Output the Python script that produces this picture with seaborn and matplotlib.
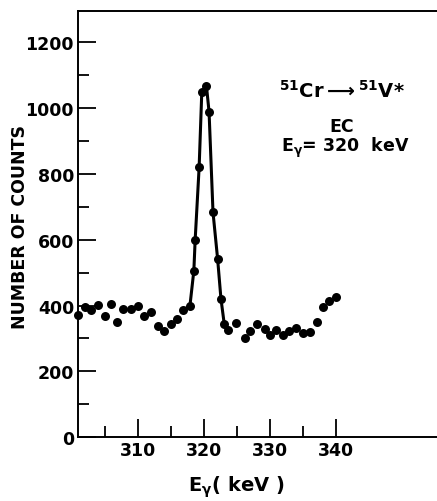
import numpy as np
import pandas as pd
import matplotlib
matplotlib.use('Agg')
import matplotlib.pyplot as plt
import seaborn as sns
from matplotlib.ticker import FixedLocator

# energy (keV) and counts
energy = [300.9, 302.0, 303.0, 304.0, 305.1, 306.0, 306.9, 307.8, 309.0, 310.1,
          311.0, 312.0, 313.0, 314.0, 315.0, 316.0, 316.9, 317.9, 318.5, 318.7,
          319.3, 319.7, 320.4, 320.8, 321.4, 322.1, 322.6, 323.1, 323.7, 324.9,
          326.2, 327.0, 328.1, 329.2, 330.0, 331.0, 332.0, 332.9, 333.9, 335.0,
          336.1, 337.1, 338.1, 339.0, 340.0]
counts = [372, 395, 385, 402, 369, 404, 351, 390, 390, 398,
          369, 380, 337, 323, 344, 359, 387, 398, 506, 600,
          820, 1048, 1068, 989, 683, 541, 421, 344, 326, 348,
          301, 324, 344, 329, 310, 325, 311, 322, 332, 317,
          319, 351, 395, 414, 425]
# points joined by the drawn curve (peak region)
peak_first, peak_last = 16, 28

x_major = [310, 320, 330, 340]
x_minor = [305, 315, 325, 335]
y_major = [0, 200, 400, 600, 800, 1000, 1200]
y_minor = [100, 300, 500, 700, 900, 1100]

df = pd.DataFrame({'E': energy, 'N': counts})
peak = df.iloc[peak_first:peak_last + 1]

sns.set_style('ticks')
plt.rcParams['font.family'] = ['DejaVu Sans']
plt.rcParams['mathtext.default'] = 'regular'
plt.rcParams['text.color'] = 'black'
plt.rcParams['axes.labelcolor'] = 'black'

fig = plt.figure(figsize=(4.37, 5.02), dpi=100)
ax = fig.add_axes([0.179, 0.127, 0.821, 0.850])

sns.lineplot(data=peak, x='E', y='N', ax=ax, color='black', lw=2.2,
             sort=False, estimator=None)
sns.scatterplot(data=df, x='E', y='N', ax=ax, color='black', s=42,
                edgecolor='black', linewidth=0, zorder=3, clip_on=False)

ax.set_xlim(301.0, 355.3)
ax.set_ylim(0, 1296)
ax.xaxis.set_major_locator(FixedLocator(x_major))
ax.xaxis.set_minor_locator(FixedLocator(x_minor))
ax.yaxis.set_major_locator(FixedLocator(y_major))
ax.yaxis.set_minor_locator(FixedLocator(y_minor))
ax.tick_params(which='both', direction='in', width=1.3, colors='black',
               labelsize=12.5, pad=3)
ax.tick_params(which='major', length=13)
ax.tick_params(which='minor', length=8)
for lab in ax.get_xticklabels() + ax.get_yticklabels():
    lab.set_fontweight('bold')

ax.spines['right'].set_visible(False)
for s in ['left', 'bottom', 'top']:
    ax.spines[s].set_linewidth(1.4)
    ax.spines[s].set_color('black')

ax.set_ylabel('NUMBER OF COUNTS', fontsize=12.5, fontweight='bold', va='center')
ax.yaxis.set_label_coords(-0.163, 0.495)
ax.set_xlabel(r'E$_{\gamma}$( keV )', fontsize=14, fontweight='bold', va='center')
ax.xaxis.set_label_coords(0.44, -0.115)

ax.text(0.735, 0.815, r'$^{51}$Cr$\longrightarrow$$^{51}$V*', transform=ax.transAxes,
        ha='center', va='center', fontsize=14, fontweight='bold')
ax.text(0.735, 0.729, 'EC', transform=ax.transAxes,
        ha='center', va='center', fontsize=12.5, fontweight='bold')
ax.text(0.745, 0.680, r'E$_{\gamma}$= 320  keV', transform=ax.transAxes,
        ha='center', va='center', fontsize=12.5, fontweight='bold')

fig.savefig('out.png', dpi=100)
